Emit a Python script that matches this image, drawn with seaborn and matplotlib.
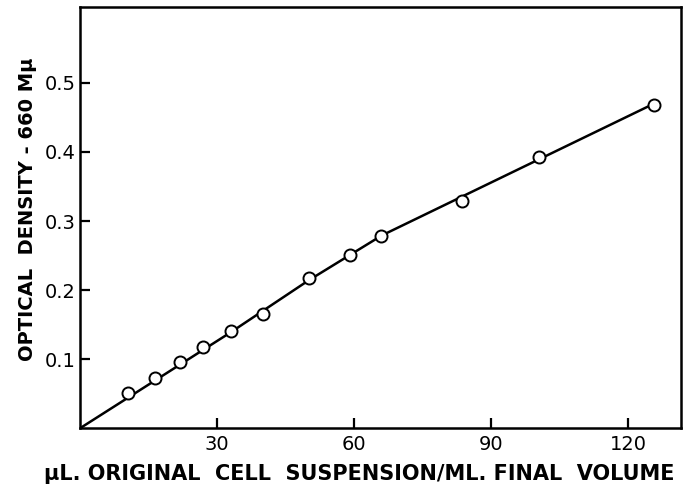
import numpy as np
import pandas as pd
import matplotlib
matplotlib.use("Agg")
import matplotlib.pyplot as plt
import seaborn as sns

# measured points
cell_ul = [10.4, 16.4, 21.8, 26.9, 33.0, 40.0, 50.0, 59.0, 65.8, 83.6, 100.5, 125.6]
od_660 = [0.051, 0.073, 0.096, 0.117, 0.141, 0.165, 0.217, 0.251, 0.279, 0.329, 0.392, 0.468]

# hand-drawn curve through the points
curve_x = [0, 33, 50, 66, 125]
curve_y = [0, 0.139, 0.214, 0.279, 0.468]

x_ticks = [30, 60, 90, 120]
y_ticks = [0.1, 0.2, 0.3, 0.4, 0.5]

sns.set_style("ticks")
plt.rcParams['font.family'] = ['DejaVu Sans']

pts = pd.DataFrame({'x': cell_ul, 'y': od_660})
crv = pd.DataFrame({'x': curve_x, 'y': curve_y})

fig = plt.figure(figsize=(6.85, 4.95), dpi=100)
ax = fig.add_axes([0.117, 0.135, 0.877, 0.851])

sns.lineplot(data=crv, x='x', y='y', ax=ax, color='black', linewidth=1.8,
             sort=False, zorder=2)
sns.scatterplot(data=pts, x='x', y='y', ax=ax, s=75, facecolor='white',
                edgecolor='black', linewidth=1.4, zorder=3)

ax.set_xlim(0, 131.5)
ax.set_ylim(0, 0.61)
ax.set_xticks(x_ticks)
ax.set_yticks(y_ticks)
ax.set_xticklabels([str(t) for t in x_ticks])
ax.set_yticklabels([str(t) for t in y_ticks])
ax.tick_params(direction='in', length=7, width=1.6, labelsize=14, pad=3,
               colors='black')
ax.tick_params(axis='x', pad=5)

for sp in ax.spines.values():
    sp.set_linewidth(1.8)
    sp.set_color('black')

ax.set_xlabel('\u03bcL. ORIGINAL  CELL  SUSPENSION/ML. FINAL  VOLUME',
              fontsize=15, fontweight='bold', color='black')
ax.xaxis.set_label_coords(0.465, -0.085)
ax.set_ylabel('OPTICAL  DENSITY - 660 M\u03bc', fontsize=14,
              fontweight='bold', color='black')
ax.yaxis.set_label_coords(-0.0715, 0.52)

fig.savefig('out.png', dpi=100)
